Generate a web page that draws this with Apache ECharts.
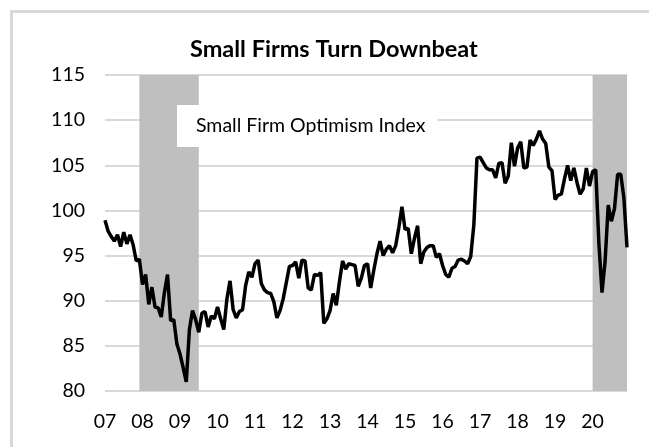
<!DOCTYPE html>
<html>
<head>
<meta charset="utf-8">
<script src="https://cdn.jsdelivr.net/npm/echarts@6/dist/echarts.min.js"></script>
<style>
html,body{margin:0;padding:0;background:#fff;}
#chart{width:649px;height:447px;}
</style>
</head>
<body>
<div id="chart"></div>
<script>
// ---- data ----
var years = [2007,2008,2009,2010,2011,2012,2013,2014,2015,2016,2017,2018,2019,2020];
var v2007 = [98.9, 97.7, 97.1, 96.6, 97.3, 96.0, 97.6, 96.3, 97.3, 96.2, 94.4, 94.6];
var v2008 = [91.8, 92.9, 89.6, 91.5, 89.3, 89.2, 88.2, 90.9, 92.9, 87.8, 87.9, 85.2];
var v2009 = [84.1, 82.6, 81.0, 86.8, 88.9, 87.9, 86.5, 88.6, 88.8, 87.1, 88.3, 88.0];
var v2010 = [89.3, 88.0, 86.8, 90.2, 92.2, 89.0, 88.1, 88.8, 89.0, 91.7, 93.2, 92.6];
var v2011 = [94.1, 94.5, 91.9, 91.2, 90.9, 90.8, 89.9, 88.1, 88.9, 90.2, 92.0, 93.8];
var v2012 = [93.9, 94.3, 92.5, 94.5, 94.4, 91.4, 91.2, 92.9, 92.8, 93.1, 87.5, 88.0];
var v2013 = [88.9, 90.8, 89.5, 92.1, 94.4, 93.5, 94.1, 94.0, 93.9, 91.6, 92.5, 93.9];
var v2014 = [94.1, 91.4, 93.4, 95.2, 96.6, 95.0, 95.7, 96.1, 95.3, 96.1, 98.1, 100.4];
var v2015 = [97.9, 98.0, 95.2, 96.9, 98.3, 94.1, 95.4, 95.9, 96.1, 96.1, 94.8, 95.2];
var v2016 = [93.9, 92.9, 92.6, 93.6, 93.8, 94.5, 94.6, 94.4, 94.1, 94.9, 98.4, 105.8];
var v2017 = [105.9, 105.3, 104.7, 104.5, 104.5, 103.6, 105.2, 105.3, 103.0, 103.8, 107.5, 104.9];
var v2018 = [106.9, 107.6, 104.7, 104.8, 107.8, 107.2, 107.9, 108.8, 107.9, 107.4, 104.8, 104.4];
var v2019 = [101.2, 101.7, 101.8, 103.5, 105.0, 103.3, 104.7, 103.1, 101.8, 102.4, 104.7, 102.7];
var v2020 = [104.3, 104.5, 96.4, 90.9, 94.4, 100.6, 98.8, 100.2, 104.0, 104.0, 101.4, 95.9];
var recessions = [['2007-12', '2009-07'], ['2020-01', '2020-12']];
var seriesName = 'Small Firm Optimism Index';
var titleText = 'Small Firms Turn Downbeat';

// ---- build ----
var yearValues = [v2007,v2008,v2009,v2010,v2011,v2012,v2013,v2014,v2015,v2016,v2017,v2018,v2019,v2020];
var categories = [];
var values = [];
years.forEach(function (y, yi) {
  for (var m = 1; m <= 12; m++) {
    categories.push(y + '-' + (m < 10 ? '0' + m : m));
    values.push(yearValues[yi][m - 1]);
  }
});

var FONT = 'Lato';
var chart = echarts.init(document.getElementById('chart'), null, {renderer: 'canvas'});
chart.setOption({
  animation: false,
  backgroundColor: '#fff',
  title: {
    text: titleText,
    left: 185,
    top: 32,
    textStyle: {fontFamily: FONT, fontWeight: 'bold', fontSize: 23.5, color: '#000'}
  },
  legend: {
    data: [seriesName],
    left: 177,
    top: 105,
    backgroundColor: '#fff',
    padding: [11, 12, 11, 14],
    itemWidth: 0,
    itemHeight: 19,
    icon: 'rect',
    textStyle: {fontFamily: FONT, fontSize: 19.5, color: '#000'}
  },
  graphic: [{
    type: 'rect',
    shape: {x: 11.5, y: 11.5, width: 700, height: 500},
    style: {fill: 'none', stroke: '#d9d9d9', lineWidth: 3},
    silent: true
  }],
  grid: {left: 105, right: 22, top: 75, bottom: 56, containLabel: false},
  xAxis: {
    type: 'category',
    data: categories,
    boundaryGap: false,
    axisLine: {show: false},
    axisTick: {show: false},
    splitLine: {show: false},
    axisLabel: {
      interval: function (idx) { return idx % 12 === 0; },
      formatter: function (v) { return v.slice(2, 4); },
      fontFamily: FONT, fontSize: 19.5, color: '#000', margin: 21
    }
  },
  yAxis: {
    type: 'value',
    min: 80, max: 115, interval: 5,
    axisLine: {show: false},
    axisTick: {show: false},
    splitLine: {lineStyle: {color: '#d9d9d9', width: 2}},
    axisLabel: {fontFamily: FONT, fontSize: 19.5, color: '#000', margin: 20}
  },
  series: [{
    name: seriesName,
    type: 'line',
    data: values,
    symbol: 'none',
    lineStyle: {color: '#000', width: 3.5},
    itemStyle: {color: '#000'},
    markArea: {
      silent: true,
      itemStyle: {color: '#bfbfbf', opacity: 1},
      data: recessions.map(function (r) { return [{xAxis: r[0]}, {xAxis: r[1]}]; })
    }
  }]
});
</script>
</body>
</html>
